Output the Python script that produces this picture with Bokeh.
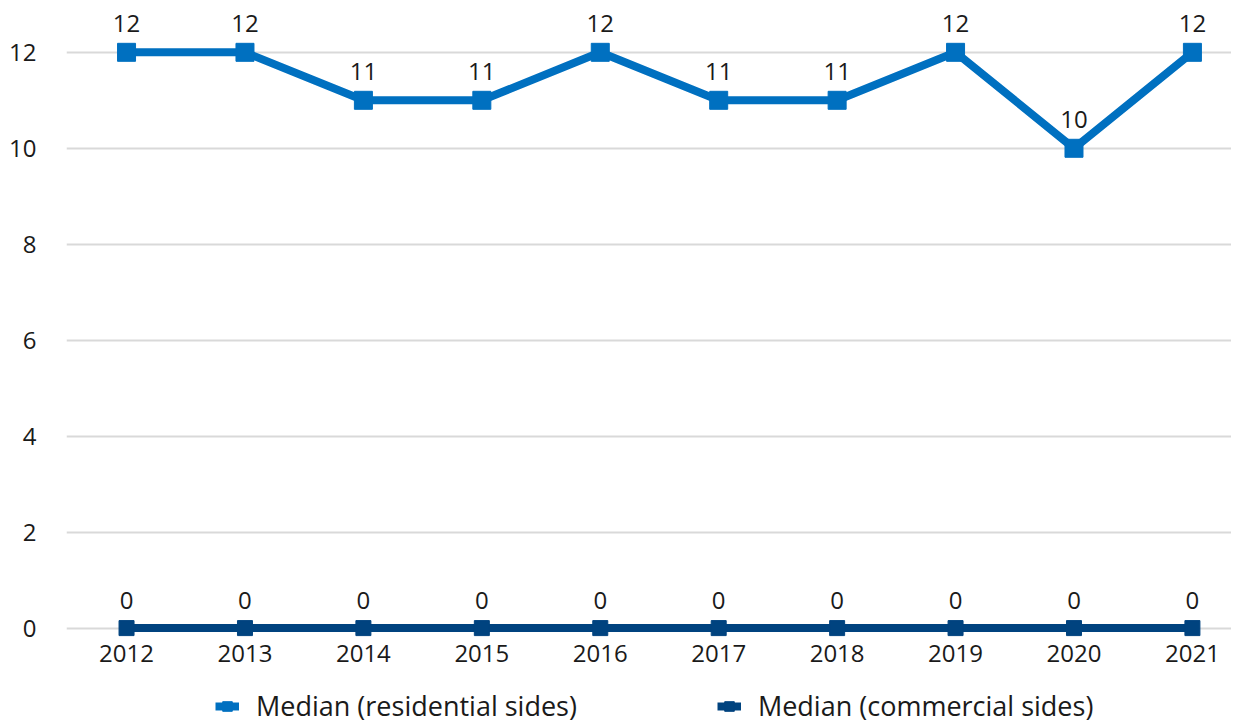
from bokeh.plotting import figure
from bokeh.layouts import column
from bokeh.models import Range1d, FixedTicker, Legend, LegendItem, ColumnDataSource
from bokeh.embed import file_html
from bokeh.resources import INLINE
from bokeh.core.properties import value

years = [2012, 2013, 2014, 2015, 2016, 2017, 2018, 2019, 2020, 2021]
residential = [12, 12, 11, 11, 12, 11, 11, 12, 10, 12]
commercial = [0, 0, 0, 0, 0, 0, 0, 0, 0, 0]
y_ticks = [0, 2, 4, 6, 8, 10, 12]
series_names = ["Median (residential sides)", "Median (commercial sides)"]

FONT = "Open Sans"
RES_C = "#0070C0"
COM_C = "#00437F"
TXT = "#1a1a1a"

p = figure(width=1231, height=688, output_backend="svg", toolbar_location=None,
           x_range=Range1d(2011.493, 2021.33), y_range=Range1d(-0.3, 13.08),
           min_border_left=66, min_border_right=0, min_border_top=0, min_border_bottom=46)
p.outline_line_color = None
p.background_fill_color = "white"
p.border_fill_color = "white"

src_r = ColumnDataSource(dict(x=years, y=residential, t=[str(v) for v in residential]))
src_c = ColumnDataSource(dict(x=years, y=commercial, t=[str(v) for v in commercial]))

def draw_series(fig, visible=True):
    lr = fig.line("x", "y", source=src_r, line_color=RES_C, line_width=8, visible=visible)
    sr = fig.scatter("x", "y", source=src_r, marker="square", size=18, fill_color=RES_C,
                     line_color=RES_C, visible=visible)
    lc = fig.line("x", "y", source=src_c, line_color=COM_C, line_width=8, visible=visible)
    sc = fig.scatter("x", "y", source=src_c, marker="square", size=15, fill_color=COM_C,
                     line_color=COM_C, visible=visible)
    return [lr, sr], [lc, sc]

draw_series(p)

p.text("x", "y", text="t", source=src_r, text_font=value(FONT), text_font_size="24px",
       text_color=TXT, text_align="center", text_baseline="middle", y_offset=-29)
p.text("x", "y", text="t", source=src_c, text_font=value(FONT), text_font_size="24px",
       text_color=TXT, text_align="center", text_baseline="middle", y_offset=-28)

p.xaxis.ticker = FixedTicker(ticks=years)
p.yaxis.ticker = FixedTicker(ticks=y_ticks)
for ax in (p.xaxis, p.yaxis):
    ax.axis_line_color = None
    ax.major_tick_line_color = None
    ax.minor_tick_line_color = None
    ax.major_tick_in = 0
    ax.major_tick_out = 0
    ax.minor_tick_in = 0
    ax.minor_tick_out = 0
    ax.major_label_text_font = FONT
    ax.major_label_text_font_size = "24px"
    ax.major_label_text_color = TXT
p.yaxis.major_label_standoff = 30
p.xaxis.major_label_standoff = 2

p.xgrid.grid_line_color = None
p.ygrid.grid_line_color = "#D9D9D9"
p.ygrid.grid_line_width = 2

# legend strip (separate figure below the chart)
q = figure(width=1231, height=36, output_backend="svg", toolbar_location=None,
           x_axis_location=None, y_axis_location=None,
           min_border_left=0, min_border_right=0, min_border_top=0, min_border_bottom=0)
q.outline_line_color = None
q.xgrid.grid_line_color = None
q.ygrid.grid_line_color = None
q.border_fill_color = "white"
q.background_fill_color = "white"
res_r, com_r = draw_series(q, visible=False)

legend = Legend(items=[LegendItem(label=series_names[0], renderers=res_r),
                       LegendItem(label=series_names[1], renderers=com_r)],
                orientation="horizontal", location=(149, 0),
                label_text_font=FONT, label_text_font_size="27px", label_text_color=TXT,
                spacing=140, glyph_width=24, glyph_height=24, label_standoff=17,
                border_line_color=None, background_fill_alpha=0, padding=0, margin=0,
                label_height=24, inactive_fill_alpha=0, click_policy="none")
q.add_layout(legend, "center")

layout = column(p, q, spacing=0)
open("out.html", "w").write(file_html(layout, INLINE))
